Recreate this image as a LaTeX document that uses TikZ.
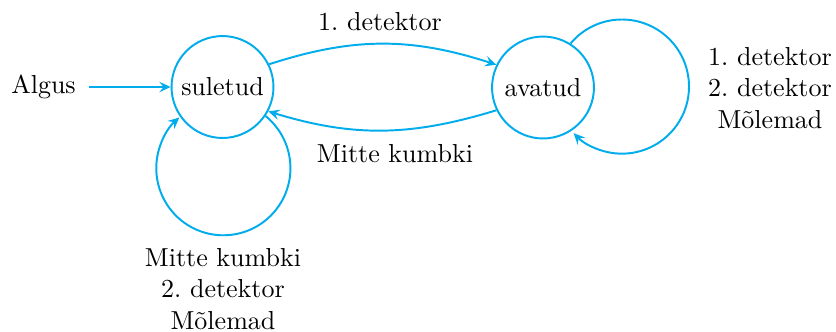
\documentclass[tikz,border=0pt]{standalone}
\usetikzlibrary{arrows.meta}
\definecolor{edgecyan}{RGB}{0,172,236}
\frenchspacing
\begin{document}
\begin{tikzpicture}[x=0.3846pt,y=0.3846pt,
  state/.style={circle,draw=edgecyan,line width=0.75pt,minimum size=39.2pt,inner sep=0pt},
  conn/.style={draw=edgecyan,line width=0.75pt,-{Stealth[length=4.3pt,width=4pt,inset=1.6pt]}},
  lbl/.style={align=center,inner sep=0pt}]
\useasboundingbox (0,0) rectangle (836,-331);
\node[state] (su) at (222.5,-87) {suletud};
\node[state] (av) at (543,-87.5) {avatud};
\node[inner sep=0pt,outer sep=0pt] (al) at (43.5,-87) {Algus};
\coordinate (alr) at (89,-87);
\path[conn] (alr) -- (su);
\path[conn] (su.26) to[out=18,in=162] (av.154);
\path[conn] (av.206) to[out=197,in=-17] (su.-28);
\path[conn] (av.58) arc[start angle=140,end angle=-136,radius=25.8pt];
\path[conn] (su.-34) arc[start angle=51,end angle=-229,radius=25.8pt];
\node[lbl] (l1) at (380,-22) {1. detektor};
\node[lbl] (l2) at (395,-154) {Mitte kumbki};
\node[lbl] (l3) at (770,-88) {1. detektor\\2. detektor\\Mõlemad};
\node[lbl] (l4) at (223,-289) {Mitte kumbki\\2. detektor\\Mõlemad};
\end{tikzpicture}
\end{document}
